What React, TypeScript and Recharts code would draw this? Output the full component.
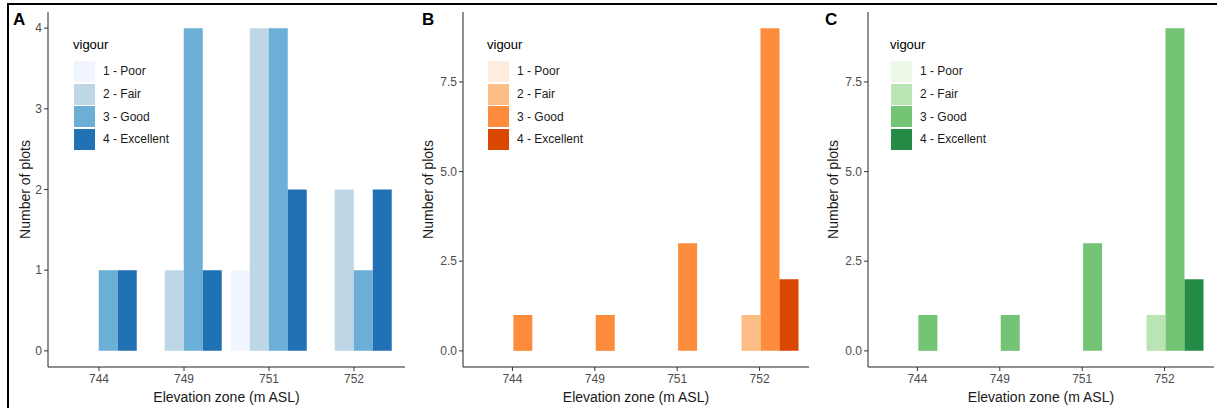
import React from 'react';
import { BarChart, Bar, XAxis, YAxis, Legend } from 'recharts';

const FONT = '"Liberation Sans", Arial, sans-serif';

const zones = ['744', '749', '751', '752'];
const vigourLevels = ['1 - Poor', '2 - Fair', '3 - Good', '4 - Excellent'];
const vigourKeys = ['poor', 'fair', 'good', 'excellent'];

// panel A (blues)
const aPoor = [null, null, 1, null];
const aFair = [null, 1, 4, 2];
const aGood = [1, 4, 4, 1];
const aExcellent = [1, 1, 2, 2];

// panel B (oranges)
const bPoor = [null, null, null, null];
const bFair = [null, null, null, 1];
const bGood = [1, 1, 3, 9];
const bExcellent = [null, null, null, 2];

// panel C (greens)
const cPoor = [null, null, null, null];
const cFair = [null, null, null, 1];
const cGood = [1, 1, 3, 9];
const cExcellent = [null, null, null, 2];

const ticksA = [0, 1, 2, 3, 4];
const ticksBC = [0, 2.5, 5, 7.5];

const blues = ['#f1f5ff', '#bdd7e7', '#6baed6', '#2171b5'];
const oranges = ['#feedde', '#fdbe85', '#fd8d3c', '#d94701'];
const greens = ['#edf8e9', '#bae4b3', '#74c476', '#238b45'];

const buildRows = (series: (number | null)[][]) =>
  zones.map((zone, i) => {
    const row: any = { zone };
    vigourKeys.forEach((k, j) => {
      row[k] = series[j][i];
    });
    return row;
  });

const VigourLegend = ({ colors }: { colors: string[] }) => (
  <div style={{ fontFamily: FONT, color: '#000', textAlign: 'left' }}>
    <div style={{ fontSize: 13, lineHeight: '16px', marginBottom: 7 }}>vigour</div>
    {vigourLevels.map((lab, i) => (
      <div key={lab} style={{ display: 'flex', alignItems: 'center', height: 22.7 }}>
        <span style={{ display: 'inline-block', width: 21, height: 21, marginLeft: 1, background: colors[i] }} />
        <span style={{ marginLeft: 8, fontSize: 12, color: '#1a1a1a', whiteSpace: 'nowrap' }}>{lab}</span>
      </div>
    ))}
  </div>
);

type PanelProps = {
  letter: string;
  letterX: number;
  left: number;
  width: number;
  yAxisWidth: number;
  plotWidth: number;
  rows: any[];
  colors: string[];
  ticks: number[];
  domain: [number, number];
  decimals: number;
  yTitleX: number;
  legendLeft: number;
};

const Panel = (p: PanelProps) => {
  const pad = p.plotWidth / 42;
  const plotTop = 12;
  const plotBottom = 367;
  const midY = (plotTop + plotBottom) / 2;
  return (
    <div style={{ position: 'absolute', left: p.left, top: 0, width: p.width, height: 408 }}>
      <BarChart
        width={p.width}
        height={408}
        data={p.rows}
        margin={{ top: plotTop, right: p.width - p.yAxisWidth - p.plotWidth, bottom: 0, left: 0 }}
        barGap={0}
        barCategoryGap="5%"
      >
        <XAxis
          dataKey="zone"
          height={408 - plotBottom}
          padding={{ left: pad, right: pad }}
          tickSize={4}
          tickMargin={3}
          tick={{ fill: '#4d4d4d', fontSize: 12, fontFamily: FONT }}
          tickLine={{ stroke: '#333' }}
          axisLine={{ stroke: '#222' }}
          label={{
            content: () => (
              <text x={p.yAxisWidth + p.plotWidth / 2} y={402} textAnchor="middle" fontSize={14} fontFamily={FONT} fill="#1a1a1a">
                Elevation zone (m ASL)
              </text>
            ),
          }}
        />
        <YAxis
          type="number"
          width={p.yAxisWidth}
          domain={p.domain}
          ticks={p.ticks}
          allowDataOverflow
          tickSize={4}
          tickMargin={2}
          tickFormatter={(v: number) => v.toFixed(p.decimals)}
          tick={{ fill: '#4d4d4d', fontSize: 12, fontFamily: FONT }}
          tickLine={{ stroke: '#333' }}
          axisLine={{ stroke: '#222' }}
          label={{
            content: () => (
              <text
                x={p.yTitleX}
                y={midY}
                transform={`rotate(-90 ${p.yTitleX} ${midY})`}
                textAnchor="middle"
                dominantBaseline="central"
                fontSize={14}
                fontFamily={FONT}
                fill="#1a1a1a"
              >
                Number of plots
              </text>
            ),
          }}
        />
        <Legend
          layout="vertical"
          align="center"
          verticalAlign="middle"
          wrapperStyle={{ left: p.legendLeft, top: 37, width: 'auto', height: 'auto' }}
          content={() => <VigourLegend colors={p.colors} />}
        />
        {vigourKeys.map((k, i) => (
          <Bar key={k} dataKey={k} name={vigourLevels[i]} fill={p.colors[i]} isAnimationActive={false} />
        ))}
      </BarChart>
      <div
        style={{
          position: 'absolute',
          left: p.letterX,
          top: 10,
          fontFamily: FONT,
          fontWeight: 'bold',
          fontSize: 17,
          lineHeight: '20px',
          color: '#000',
        }}
      >
        {p.letter}
      </div>
    </div>
  );
};

export default function App() {
  return (
    <div
      style={{
        position: 'absolute',
        left: 0,
        top: 0,
        width: 1217,
        height: 408,
        background: '#fff',
        overflow: 'hidden',
        fontFamily: FONT,
      }}
    >
      <div
        style={{
          position: 'absolute',
          left: 7,
          top: 3,
          right: 0,
          bottom: 0,
          borderLeft: '2px solid #000',
          borderTop: '2px solid #000',
        }}
      />
      <Panel
        letter="A"
        letterX={13}
        left={0}
        width={410}
        yAxisWidth={48}
        plotWidth={357}
        rows={buildRows([aPoor, aFair, aGood, aExcellent])}
        colors={blues}
        ticks={ticksA}
        domain={[-0.2, 4.2]}
        decimals={0}
        yTitleX={25}
        legendLeft={73}
      />
      <Panel
        letter="B"
        letterX={12}
        left={410}
        width={400}
        yAxisWidth={53}
        plotWidth={346}
        rows={buildRows([bPoor, bFair, bGood, bExcellent])}
        colors={oranges}
        ticks={ticksBC}
        domain={[-0.45, 9.45]}
        decimals={1}
        yTitleX={18}
        legendLeft={77}
      />
      <Panel
        letter="C"
        letterX={15}
        left={810}
        width={407}
        yAxisWidth={58}
        plotWidth={346}
        rows={buildRows([cPoor, cFair, cGood, cExcellent])}
        colors={greens}
        ticks={ticksBC}
        domain={[-0.45, 9.45]}
        decimals={1}
        yTitleX={23}
        legendLeft={80}
      />
    </div>
  );
}
